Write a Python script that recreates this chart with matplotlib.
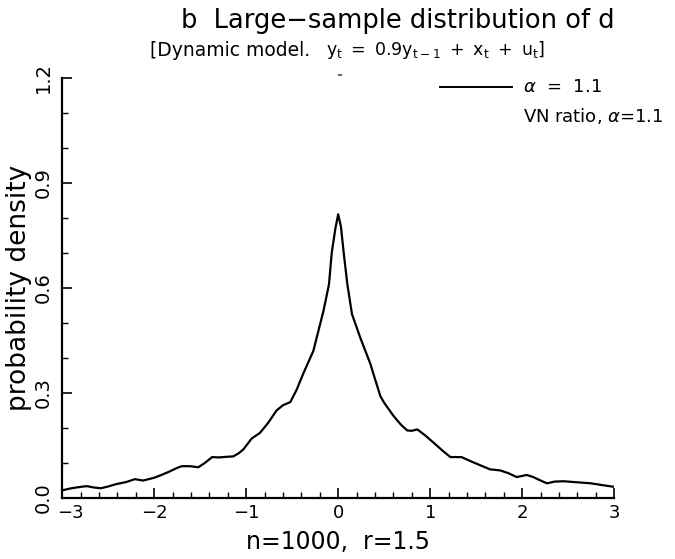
import matplotlib
matplotlib.use("Agg")
import matplotlib.pyplot as plt
import matplotlib.transforms as mtransforms
from matplotlib.ticker import MultipleLocator, FixedLocator

# ---- data ----
d_values = [-3.00, -2.90, -2.80, -2.73, -2.65, -2.58, -2.50, -2.41, -2.30, -2.21,
            -2.12, -2.00, -1.92, -1.84, -1.76, -1.70, -1.61, -1.52, -1.45, -1.37,
            -1.30, -1.20, -1.14, -1.08, -1.03, -0.94, -0.85, -0.76, -0.67, -0.60,
            -0.52, -0.45, -0.38, -0.27, -0.16, -0.10, -0.07, -0.03, 0.00, 0.03,
            0.06, 0.10, 0.15, 0.24, 0.35, 0.40, 0.46, 0.50, 0.60, 0.68,
            0.75, 0.80, 0.86, 0.95, 1.05, 1.14, 1.22, 1.34, 1.45, 1.55,
            1.65, 1.76, 1.85, 1.94, 2.05, 2.12, 2.20, 2.27, 2.35, 2.45,
            2.60, 2.75, 2.87, 3.00]
density = [0.022, 0.028, 0.032, 0.034, 0.030, 0.028, 0.033, 0.040, 0.046, 0.054,
           0.050, 0.058, 0.066, 0.075, 0.085, 0.091, 0.091, 0.088, 0.100, 0.117,
           0.116, 0.118, 0.119, 0.128, 0.139, 0.170, 0.186, 0.215, 0.250, 0.265,
           0.274, 0.310, 0.355, 0.420, 0.534, 0.610, 0.700, 0.770, 0.810, 0.775,
           0.700, 0.610, 0.525, 0.458, 0.383, 0.340, 0.290, 0.272, 0.235, 0.210,
           0.193, 0.192, 0.196, 0.178, 0.155, 0.134, 0.117, 0.117, 0.104, 0.093,
           0.082, 0.079, 0.071, 0.060, 0.066, 0.060, 0.050, 0.042, 0.047, 0.048,
           0.045, 0.042, 0.037, 0.032]

x_ticks = [-3, -2, -1, 0, 1, 2, 3]
x_tick_labels = ["\u22123", "\u22122", "\u22121", "0", "1", "2", "3"]
y_ticks = [0.0, 0.3, 0.6, 0.9, 1.2]
y_tick_labels = ["0.0", "0.3", "0.6", "0.9", "1.2"]

title = "b  Large\u2212sample distribution of d"
subtitle_text = "[Dynamic model."
subtitle_formula = r"$\mathregular{y_t\ =\ 0.9y_{t-1}\ +\ x_t\ +\ u_t}$]"
legend_label = r"$\alpha$  =  1.1"
legend_label2 = r"VN ratio, $\alpha$=1.1"
x_label = "n=1000,  r=1.5"
y_label = "probability density"

plt.rcParams['font.family'] = ['DejaVu Sans']
plt.rcParams['mathtext.fontset'] = 'dejavusans'

fig = plt.figure(figsize=(6.75, 5.59), dpi=100)
ax = fig.add_axes([0.092, 0.109, 0.818, 0.752])

ax.plot(d_values, density, color='black', lw=1.6)

ax.set_xlim(-3, 3)
ax.set_ylim(0, 1.2)
for s in ['top', 'right']:
    ax.spines[s].set_visible(False)
for s in ['left', 'bottom']:
    ax.spines[s].set_linewidth(1.6)

ax.xaxis.set_major_locator(FixedLocator(x_ticks))
ax.set_xticklabels(x_tick_labels, fontsize=13)
ax.xaxis.set_minor_locator(MultipleLocator(0.2))
ax.yaxis.set_major_locator(FixedLocator(y_ticks))
ax.set_yticklabels(y_tick_labels, fontsize=14, rotation=90, va='center')
ax.yaxis.set_minor_locator(MultipleLocator(0.1))
ax.tick_params(which='major', direction='in', length=7, width=1.2)
ax.tick_params(axis='x', which='major', pad=4)
ax.tick_params(axis='y', which='major', pad=7)
ax.tick_params(which='minor', direction='in', length=4, width=1.0)

# nudge the "-3" label right so it clears the "0.0" label
shift = mtransforms.ScaledTranslation(8 / 100, 0, fig.dpi_scale_trans)
lbl = ax.get_xticklabels()[0]
lbl.set_transform(lbl.get_transform() + shift)

ax.set_xlabel(x_label, fontsize=17, labelpad=6)
ax.set_ylabel(y_label, fontsize=19, labelpad=1)

fig.text(0.268, 0.963, title, fontsize=18.5, ha='left', va='center')
fig.text(0.222, 0.910, subtitle_text, fontsize=13.5, ha='left', va='center')
fig.text(0.483, 0.910, subtitle_formula, fontsize=12.5, ha='left', va='center')
fig.text(0.502, 0.866, "=", fontsize=5, ha='center', va='center')

# legend drawn manually
fig.add_artist(plt.Line2D([0.652, 0.758], [0.845, 0.845], color='black', lw=1.4,
                          transform=fig.transFigure))
fig.text(0.775, 0.845, legend_label, fontsize=13, ha='left', va='center')
fig.text(0.775, 0.792, legend_label2, fontsize=13, ha='left', va='center')

fig.savefig("out.png", dpi=100)
